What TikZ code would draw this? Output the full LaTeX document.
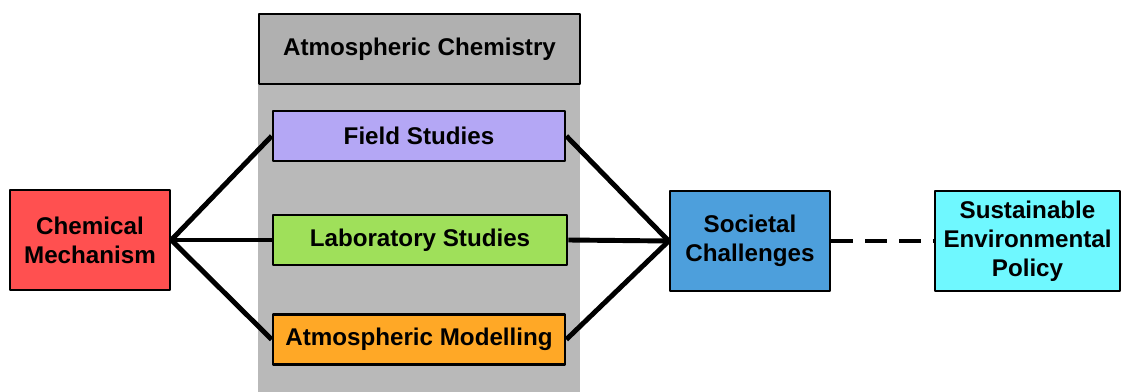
\documentclass[tikz,border=0pt]{standalone}
\usepackage{fontspec}
\setmainfont{Liberation Sans}
\usetikzlibrary{backgrounds}
\definecolor{colhead}{HTML}{B0B0B0}
\definecolor{colband}{HTML}{B9B9B9}
\definecolor{colfield}{HTML}{B4A7F5}
\definecolor{collab}{HTML}{9FE05A}
\definecolor{colmodel}{HTML}{FFA826}
\definecolor{colchem}{HTML}{FF5050}
\definecolor{colsoc}{HTML}{4D9FDC}
\definecolor{colpolicy}{HTML}{6FF8FF}
\begin{document}
\begin{tikzpicture}[x=0.025cm, y=-0.025cm, line join=round,
		font=\bfseries\fontsize{17.2}{20.6}\selectfont,
		box/.style={draw=black, line width=1.8pt, align=center, inner sep=0pt},
		wide/.style={box, minimum width=7.3cm, minimum height=1.25cm},
		tall/.style={box, minimum width=4cm, minimum height=2.5cm},
		link/.style={line width=3.5pt}]
	\useasboundingbox (0,0) rectangle (1122,392);
	% grey band with its title
	\node[box, fill=colhead, minimum width=8.025cm, minimum height=1.75cm] (chemistry) at (419.5,49) {Atmospheric Chemistry};
	\node[wide, fill=colfield] (field) at (419,136) {Field Studies};
	\node[wide, fill=collab, minimum width=7.35cm] (lab) at (420,240) {Laboratory Studies};
	\node[wide, fill=colmodel] (model) at (419,339.5) {Atmospheric Modelling};
	% outer boxes
	\node[tall, fill=colchem] (chem) at (90,240) {Chemical\\Mechanism};
	\node[tall, fill=colsoc] (soc) at (750,241) {Societal\\Challenges};
	\node[tall, fill=colpolicy, minimum width=4.625cm] (policy) at (1027.5,241) {Sustainable\\Environmental\\Policy};
	\begin{scope}[on background layer]
		\fill[colband] (chemistry.south west) rectangle (580,392);
		\foreach \s in {field,lab,model}{
			\draw[link] (chem.east) -- (\s.west);
			\draw[link] (\s.east) -- (soc.west);
		}
		\draw[link, dash pattern=on 15.6pt off 8.5pt] (soc.east) -- (policy.west);
	\end{scope}
\end{tikzpicture}
\end{document}
